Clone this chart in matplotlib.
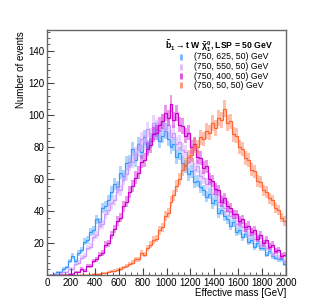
import numpy as np
import matplotlib
matplotlib.use('Agg')
import matplotlib.pyplot as plt

plt.rcParams['font.family'] = ['Liberation Sans', 'DejaVu Sans']
plt.rcParams['mathtext.fontset'] = 'custom'
plt.rcParams['mathtext.rm'] = 'Liberation Sans:bold'
plt.rcParams['mathtext.it'] = 'Liberation Sans:bold'
plt.rcParams['mathtext.bf'] = 'Liberation Sans:bold'

# 25 GeV bins from 0 to 2000
bin_edges = np.arange(0, 2001, 25)

m625 = [0, 0.5, 1, 2, 2, 4, 5, 9, 12, 9, 14, 16, 21, 22, 27, 28,
        35, 33, 42, 43, 47, 52, 57, 55, 64, 62, 70, 71, 79, 72, 82, 77,
        86, 80, 84, 89, 91, 84, 87, 90, 85, 80, 82, 74, 76, 70, 68, 63,
        65, 58, 59, 55, 53, 49, 51, 45, 47, 39, 41, 37, 35, 31, 33, 27,
        28, 24, 26, 21, 22, 18, 20, 17, 17, 13, 15, 12, 11, 10, 10, 7]
m550 = [0, 0, 0.5, 1, 1, 2, 2, 4, 4, 7, 8, 11, 12, 17, 18, 24,
        25, 31, 32, 38, 41, 45, 47, 54, 53, 60, 63, 69, 71, 76, 78, 85,
        83, 91, 87, 95, 92, 90, 96, 91, 94, 86, 89, 82, 83, 78, 77, 71,
        73, 66, 68, 62, 61, 57, 58, 51, 53, 46, 47, 42, 40, 37, 38, 32,
        33, 30, 29, 25, 27, 23, 24, 19, 21, 17, 18, 13, 15, 11, 12, 9]
m400 = [0, 0, 0, 0, 0, 0.5, 0.5, 1, 1, 2, 2, 4, 3, 6, 6, 9,
        10, 13, 14, 19, 20, 25, 29, 34, 36, 43, 46, 52, 56, 61, 64, 71,
        72, 79, 81, 88, 89, 94, 96, 101, 98, 107, 97, 101, 94, 93, 87, 89,
        80, 82, 74, 73, 67, 68, 60, 59, 54, 53, 46, 48, 43, 42, 38, 38,
        34, 35, 30, 31, 27, 28, 23, 25, 20, 22, 18, 19, 15, 16, 12, 13]
m50 = [0, 0, 0, 0, 0, 0, 0, 0, 0, 0, 0, 0.5, 0.5, 0.5, 0.5, 1,
       1, 1, 1.5, 1.5, 2, 2.5, 3, 3.5, 4, 5, 6, 7, 8, 10, 10, 14,
       13, 17, 19, 22, 23, 28, 30, 37, 39, 46, 50, 56, 60, 66, 69, 74,
       75, 81, 80, 86, 85, 90, 89, 95, 92, 98, 97, 104, 95, 96, 88, 87,
       80, 79, 73, 72, 66, 65, 59, 58, 53, 52, 48, 47, 42, 41, 36, 34]

series = [m625, m550, m400, m50]
labels = ['(750, 625, 50) GeV', '(750, 550, 50) GeV',
          '(750, 400, 50) GeV', '(750, 50, 50) GeV']
colors = ['#3399ff', '#cc99ff', '#cc00cc', '#ff6633']

fig = plt.figure(figsize=(3.19, 3.06), dpi=100)
ax = fig.add_axes([0.147, 0.100, 0.750, 0.802])

for vals, c in zip(series, colors):
    v = np.array(vals, dtype=float)
    err = 0.5 * np.sqrt(v)
    lo = np.r_[v - err, v[-1] - err[-1]]
    hi = np.r_[v + err, v[-1] + err[-1]]
    ax.fill_between(bin_edges, lo, hi, step='post', color=c, alpha=0.4, lw=0)
    ax.stairs(v, bin_edges, color=c, lw=0.9)

ax.set_xlim(0, 2000)
ax.set_ylim(0, 153)
ax.set_xticks(np.arange(0, 2001, 200))
ax.set_xticks(np.arange(0, 2001, 50), minor=True)
ax.set_yticks(np.arange(20, 141, 20))
ax.set_yticks(np.arange(0, 153, 4), minor=True)
ax.tick_params(which='both', direction='in', labelsize=7, color='#444444')
ax.tick_params(which='major', length=5)
ax.tick_params(which='minor', length=2.5)
ax.tick_params(axis='x', pad=2)
ax.tick_params(axis='y', pad=1.5)
for s in ax.spines.values():
    s.set_color('#666666')
    s.set_linewidth(1)

fig.text(20.7 / 319, 1 - 31 / 306, 'Number of events', rotation=90,
         ha='center', va='top', fontsize=7)
fig.text(286 / 319, 1 - 292.7 / 306, 'Effective mass [GeV]',
         ha='right', va='center', fontsize=7)

# legend
ax.text(0.494, 0.935,
        r'$\tilde{b}_1 \rightarrow t$ W $\tilde{\chi}^0_1$, LSP = 50 GeV',
        transform=ax.transAxes, fontsize=6.2, fontweight='bold',
        ha='left', va='center')
leg_y = [0.890, 0.851, 0.811, 0.774]
for yy, lab, c in zip(leg_y, labels, colors):
    ax.plot([0.559], [yy], marker='|', ms=4, mew=2, color=c, alpha=0.7,
            transform=ax.transAxes, clip_on=False)
    ax.text(0.615, yy, lab, transform=ax.transAxes, fontsize=6.3,
            ha='left', va='center')

fig.savefig('out.png', dpi=100)
